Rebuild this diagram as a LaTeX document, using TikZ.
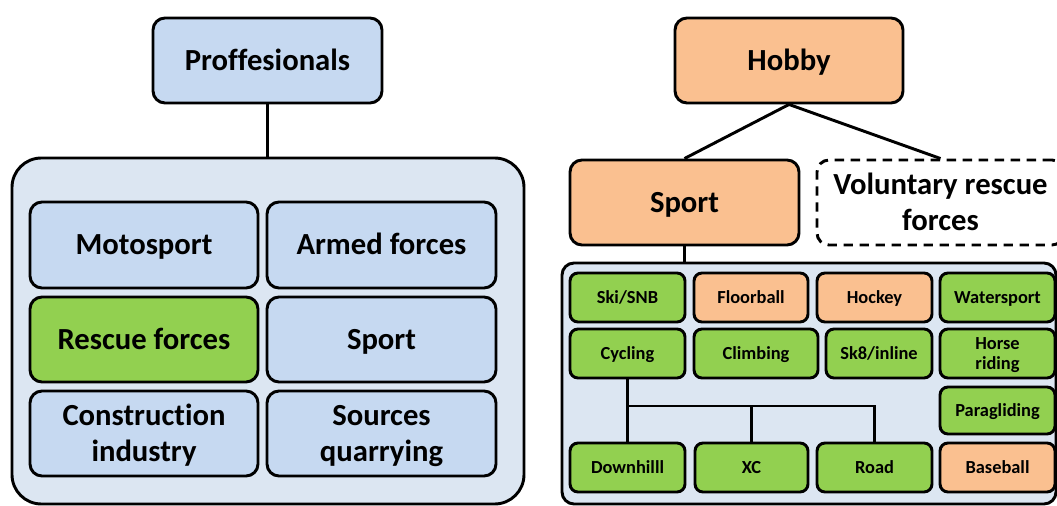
\documentclass[tikz,border=0pt]{standalone}
\usepackage{fontspec}
\setmainfont{Carlito}[Ligatures=NoCommon]
\definecolor{contblue}{HTML}{DCE6F2}
\definecolor{boxblue}{HTML}{C6D9F1}
\definecolor{boxgreen}{HTML}{92D050}
\definecolor{boxorange}{HTML}{FAC090}
\newcommand\mybox[7]{\node[#2, minimum width={(#5-#3)*0.75pt}, minimum height={(#6-#4)*0.75pt}] (#1) at ({(#3+#5)/2},{(#4+#6)/2}) {#7};}
\begin{document}
\begin{tikzpicture}[x=0.75pt,y=-0.75pt,
  bigbox/.style={draw=black, line width=2.2pt, rounded corners=9pt, inner sep=0pt, align=center,
    font=\bfseries\fontsize{23}{27}\selectfont, text height=16.8pt, text depth=2pt},
  bigtwo/.style={bigbox, text height=43.8pt, text depth=2pt},
  smallbox/.style={draw=black, line width=2.2pt, rounded corners=6pt, inner sep=0pt, align=center,
    font=\bfseries\fontsize{13.8}{15.5}\selectfont, text height=10.4pt, text depth=1.5pt},
  smalltwo/.style={smallbox, text height=26.4pt, text depth=2pt},
  cont/.style={draw=black, line width=2.2pt, fill=contblue, inner sep=0pt},
  conn/.style={draw=black, line width=2.2pt},
  bl/.style={fill=boxblue}, gr/.style={fill=boxgreen}, og/.style={fill=boxorange}]
\useasboundingbox (0,0) rectangle (1057,506);
% left side
\mybox{prof}{bigbox, bl}{153}{18}{382}{103}{Proffesionals}
\mybox{lcont}{cont, rounded corners=22pt}{12}{158}{524}{504}{}
\mybox{moto}{bigbox, bl}{30}{202}{258}{288}{Motosport}
\mybox{armed}{bigbox, bl}{267}{202}{496}{288}{Armed forces}
\mybox{rescue}{bigbox, gr}{30}{297}{258}{382}{Rescue forces}
\mybox{lsport}{bigbox, bl}{267}{297}{496}{382}{Sport}
\mybox{constr}{bigtwo, bl}{30}{391}{258}{476}{Construction\\industry}
\mybox{sources}{bigtwo, bl}{267}{391}{496}{476}{Sources\\quarrying}
\draw[conn] (prof.south) -- (prof.south |- lcont.north);
% right side
\mybox{hobby}{bigbox, og}{675}{18}{903}{103}{Hobby}
\mybox{sport}{bigbox, og}{570}{160}{799}{245}{Sport}
\mybox{volunt}{bigtwo, dash pattern=on 7pt off 5pt}{817}{160}{1064}{245}{Voluntary rescue\\forces}
\draw[conn] (hobby.south) -- (sport.north);
\draw[conn] (hobby.south) -- (volunt.north);
\mybox{rcont}{cont, rounded corners=9pt}{562}{263}{1056}{504}{}
\draw[conn] (sport.south) -- (sport.south |- rcont.north);
\mybox{ski}{smallbox, gr}{570}{273}{685}{322}{Ski/SNB}
\mybox{floor}{smallbox, og}{694}{273}{808}{322}{Floorball}
\mybox{hockey}{smallbox, og}{817}{273}{932}{322}{Hockey}
\mybox{water}{smallbox, gr}{940}{273}{1055}{322}{Watersport}
\mybox{cyc}{smallbox, gr}{570}{329}{685}{378}{Cycling}
\mybox{climb}{smallbox, gr}{694}{329}{818}{378}{Climbing}
\mybox{sk8}{smallbox, gr}{826}{329}{932}{378}{Sk8/inline}
\mybox{horse}{smalltwo, gr}{940}{329}{1055}{378}{Horse\\riding}
\mybox{para}{smallbox, gr}{940}{387}{1055}{434}{Paragliding}
\mybox{down}{smallbox, gr}{570}{443}{685}{492}{Downhilll}
\mybox{xc}{smallbox, gr}{695}{443}{808}{492}{XC}
\mybox{road}{smallbox, gr}{817}{443}{932}{492}{Road}
\mybox{base}{smallbox, og}{940}{443}{1055}{492}{Baseball}
\coordinate (bus) at (0,406);
\draw[conn] (cyc.south) -- (down.north);
\draw[conn] (cyc.south |- bus) -| (road.north);
\draw[conn] (xc.north) -- (xc.north |- bus);
\end{tikzpicture}
\end{document}
